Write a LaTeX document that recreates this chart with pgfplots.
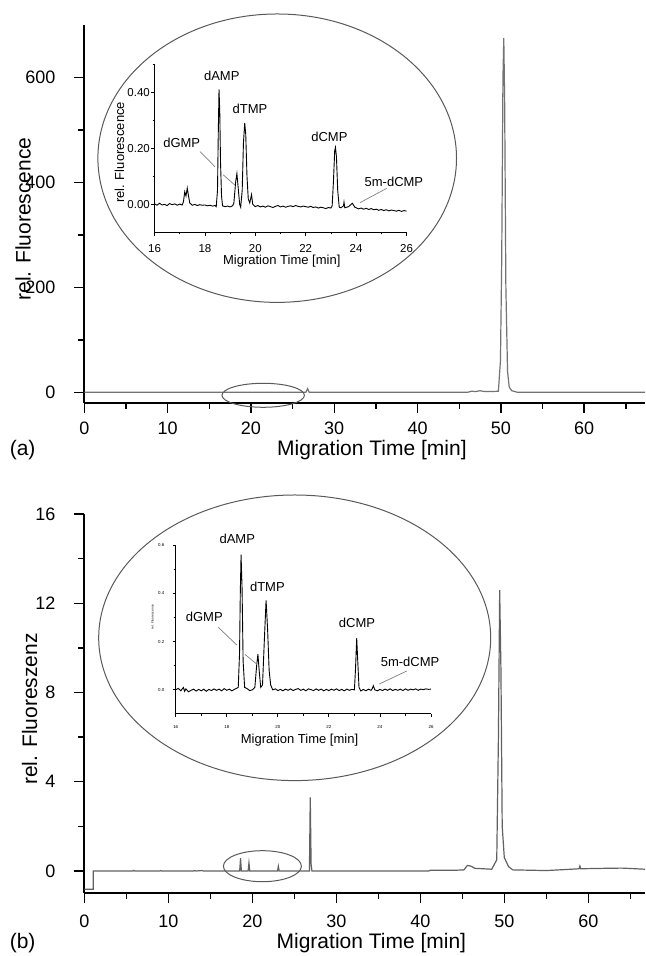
\documentclass[border=0pt]{standalone}
\usepackage{fontspec}
\setmainfont{Liberation Sans}
\usepackage{pgfplots}
\pgfplotsset{compat=1.18}
\definecolor{tracegray}{gray}{0.45}
\definecolor{ellgray}{gray}{0.35}
\tikzset{peak/.style={font=\fontsize{6.5}{7.5}\selectfont}}

\begin{document}
\begin{tikzpicture}
\path[use as bounding box] (0,0) rectangle (322.5pt,478pt);

\pgfplotsset{
  mainax/.style={
    scale only axis, anchor=south west, axis lines*=left,
    width=280.35pt, xmin=0,
    tick align=outside, major tick length=5pt, minor tick length=3pt,
    axis line style={line width=1pt},
    tick style={black, line width=0.7pt},
    xtick={0,10,...,60}, minor xtick={5,15,...,65},
    tick label style={font=\fontsize{9}{10}\selectfont},
    /pgf/number format/assume math mode=true,
    yticklabel style={anchor=east, inner sep=0pt, xshift=-9.25pt},
    xticklabel style={anchor=north, inner sep=0pt},
    label style={font=\fontsize{10.5}{12}\selectfont},
    clip mode=individual,
  },
  insetax/.style={
    scale only axis, anchor=south west, axis lines*=left,
    xmin=16, xmax=26, ymin=-0.1,
    xtick={16,18,...,26}, minor xtick={17,19,...,25},
    minor ytick={0.1,0.3,0.5},
    tick align=outside,
    axis line style={line width=0.5pt},
    tick style={black, line width=0.4pt},
    /pgf/number format/assume math mode=true,
    clip mode=individual,
  },
}

% ---------------- panel (a) ----------------
\begin{axis}[mainax, at={(42.15pt,276.6pt)}, height=188.9pt,
  xmax=67.3, ymin=-20, ymax=700,
  ytick={0,200,400,600}, minor ytick={100,300,500},
  xticklabel style={yshift=-4.5pt},
  xlabel={Migration Time [min]},
  xlabel style={at={(axis description cs:0.513,-0.125)}, anchor=center},
  ylabel={rel. Fluorescence},
  ylabel style={at={(axis description cs:-0.109,0.4865)}, anchor=center},
]
\addplot[tracegray, line width=0.6pt] coordinates {
  (0,0) (26.6,0) (26.8,7) (27.0,0) (46,0) (46.5,2) (47,1.5) (47.5,3)
  (48,1.5) (49,1.5) (49.7,2) (49.95,60) (50.1,250) (50.25,600) (50.35,675)
  (50.45,560) (50.6,200) (50.8,40) (51.0,10) (51.3,3) (52,0) (67.3,0)
};
\node[font=\fontsize{10.5}{12}\selectfont] at (axis description cs:-0.110,-0.125) {(a)};
\end{axis}

\draw[ellgray, line width=0.5pt] (138.6pt,398.9pt) ellipse [x radius=89.65pt, y radius=72.1pt];
\draw[ellgray, line width=0.5pt] (131.6pt,280.35pt) ellipse [x radius=20.6pt, y radius=6pt];

\begin{axis}[insetax, at={(77.25pt,361.75pt)}, width=126pt, height=84.25pt,
  ymax=0.5, ytick={0,0.2,0.4}, yticklabels={0.00,0.20,0.40},
  major tick length=1.65pt, minor tick length=1pt,
  tick label style={font=\fontsize{5.75}{6.5}\selectfont},
  yticklabel style={anchor=east, inner sep=0pt, xshift=-0.5pt},
  xticklabel style={anchor=north, inner sep=0pt, yshift=-4pt},
  xlabel={Migration Time [min]},
  xlabel style={at={(axis description cs:0.505,-0.169)}, anchor=center, font=\fontsize{6.5}{7.5}\selectfont},
  ylabel={rel. Fluorescence},
  ylabel style={at={(axis description cs:-0.139,0.475)}, anchor=center, font=\fontsize{6.5}{7.5}\selectfont},
]
\addplot[black, line width=0.45pt] coordinates {
  (16.0,0.002) (16.1,-0.003) (16.2,0.004) (16.3,-0.002) (16.4,0.000)
  (16.5,-0.004) (16.6,0.003) (16.7,-0.001) (16.8,0.002) (16.9,-0.003)
  (17.0,0.001) (17.1,-0.002) (17.15,0.010) (17.2,0.045) (17.25,0.030)
  (17.3,0.058) (17.35,0.030) (17.4,0.005) (17.5,-0.003) (17.6,0.000)
  (17.7,-0.004) (17.8,-0.001) (17.9,-0.003) (18.0,-0.002) (18.1,-0.005)
  (18.2,-0.003) (18.3,-0.006) (18.4,-0.004) (18.45,-0.008) (18.5,0.05)
  (18.53,0.25) (18.56,0.41) (18.59,0.33) (18.62,0.15) (18.66,0.03)
  (18.7,-0.005) (18.8,-0.008) (18.9,-0.006) (19.0,-0.009) (19.1,-0.005)
  (19.15,0.005) (19.22,0.08) (19.27,0.11) (19.32,0.06) (19.38,0.00)
  (19.42,-0.01) (19.48,0.05) (19.53,0.22) (19.58,0.29) (19.62,0.25)
  (19.67,0.10) (19.72,0.02) (19.78,0.005) (19.85,0.035) (19.9,0.000)
  (20.0,-0.008) (20.1,-0.004) (20.2,-0.009) (20.3,-0.006) (20.4,-0.010)
  (20.5,-0.005) (20.6,-0.008) (20.7,-0.011) (20.8,-0.007) (20.9,-0.004)
  (21.0,-0.009) (21.1,-0.006) (21.2,-0.010) (21.3,-0.007) (21.4,-0.005)
  (21.5,-0.008) (21.6,-0.004) (21.7,-0.007) (21.8,-0.009) (21.9,-0.006)
  (22.0,-0.008) (22.1,-0.010) (22.2,-0.007) (22.3,-0.011) (22.4,-0.009)
  (22.5,-0.013) (22.6,-0.010) (22.7,-0.012) (22.8,-0.015) (22.9,-0.011)
  (23.0,-0.013) (23.05,-0.005) (23.1,0.08) (23.15,0.19) (23.18,0.203)
  (23.22,0.17) (23.27,0.05) (23.33,-0.01) (23.4,-0.012) (23.5,-0.005)
  (23.52,0.008) (23.55,-0.012) (23.7,-0.008) (23.85,0.004) (23.95,-0.010)
  (24.0,-0.012) (24.1,-0.016) (24.2,-0.013) (24.3,-0.017) (24.4,-0.014)
  (24.5,-0.018) (24.6,-0.015) (24.7,-0.019) (24.8,-0.017) (24.9,-0.021)
  (25.0,-0.018) (25.1,-0.022) (25.2,-0.019) (25.3,-0.023) (25.4,-0.020)
  (25.5,-0.022) (25.6,-0.024) (25.7,-0.021) (25.8,-0.025) (25.9,-0.022)
  (26.0,-0.024)
};
\node[peak] at (axis cs:18.67,0.457) {dAMP};
\node[peak] at (axis cs:19.79,0.34) {dTMP};
\node[peak] at (axis cs:17.08,0.218) {dGMP};
\node[peak] at (axis cs:22.94,0.239) {dCMP};
\node[peak] at (axis cs:25.5,0.08) {5m-dCMP};
\draw[gray, line width=0.35pt] (axis cs:17.81,0.188) -- (axis cs:18.4,0.134);
\draw[gray, line width=0.35pt] (axis cs:18.73,0.105) -- (axis cs:19.19,0.069);
\draw[gray, line width=0.35pt] (axis cs:25.21,0.057) -- (axis cs:24.15,0.006);
\end{axis}

% ---------------- panel (b) ----------------
\begin{axis}[mainax, at={(42.15pt,31.35pt)}, height=189.55pt,
  xmax=66.75, ymin=-1, ymax=16,
  ytick={0,4,8,12,16}, minor ytick={2,6,10,14},
  xticklabel style={yshift=-5.85pt},
  xlabel={Migration Time [min]},
  xlabel style={at={(axis description cs:0.512,-0.131)}, anchor=center},
  ylabel={rel. Fluoreszenz},
  ylabel style={at={(axis description cs:-0.0977,0.486)}, anchor=center},
]
\addplot[tracegray!85!black, line width=0.6pt] coordinates {
  (0,-0.82) (1.07,-0.82) (1.07,0) (5.8,0) (5.9,0.03) (6.0,0) (9,0) (9.1,0.02)
  (9.2,0) (13,0) (13.1,0.02) (13.3,0) (14,0.02) (14.2,0) (18.5,0)
  (18.6,0.57) (18.7,0) (19.5,0) (19.6,0.36) (19.7,0) (23.0,0) (23.1,0.21)
  (23.2,0) (26.8,0) (26.9,3.3) (27.0,0.3) (27.1,0) (41,0) (41.2,0.03)
  (44,0.03) (45.2,0.05) (45.6,0.25) (46,0.22) (46.5,0.12) (48.5,0.08)
  (49.1,0.5) (49.3,6) (49.45,12.6) (49.6,9) (49.75,2) (50,0.6) (50.5,0.2)
  (51,0.05) (55,0.02) (58,0.08) (58.9,0.1) (59,0.22) (59.1,0.1) (62,0.12)
  (64,0.13) (66.75,0.08)
};
\node[font=\fontsize{10.5}{12}\selectfont] at (axis description cs:-0.110,-0.131) {(b)};
\end{axis}

\draw[ellgray, line width=0.5pt] (147.35pt,159.1pt) ellipse [x radius=98pt, y radius=71.4pt];
\draw[ellgray, line width=0.5pt] (131.2pt,44.9pt) ellipse [x radius=19.5pt, y radius=7.75pt];

\begin{axis}[insetax, at={(87.85pt,121pt)}, width=127.65pt, height=84.5pt,
  ymax=0.6, ytick={0,0.2,0.4,0.6}, yticklabels={0.0,0.2,0.4,0.6},
  major tick length=1.5pt, minor tick length=1pt,
  tick label style={font=\fontsize{2.2}{2.5}\selectfont},
  yticklabel style={anchor=east, inner sep=0pt, xshift=-4pt},
  xticklabel style={anchor=north, inner sep=0pt, yshift=-4pt},
  xlabel={Migration Time [min]},
  xlabel style={at={(axis description cs:0.485,-0.154)}, anchor=center, font=\fontsize{6.5}{7.5}\selectfont},
  ylabel={rel. Fluorescence},
  ylabel style={at={(axis description cs:-0.091,0.574)}, anchor=center, font=\fontsize{1.6}{2}\selectfont},
]
\addplot[black, line width=0.45pt] coordinates {
  (16.0,0.000) (16.1,0.006) (16.2,-0.004) (16.3,0.010) (16.35,-0.006)
  (16.4,0.004) (16.5,-0.008) (16.6,-0.002) (16.7,0.003) (16.8,-0.005)
  (16.9,0.002) (17.0,-0.004) (17.1,0.003) (17.2,-0.006) (17.3,0.002)
  (17.4,-0.003) (17.5,0.004) (17.6,-0.002) (17.7,0.003) (17.8,-0.004)
  (17.9,0.005) (18.0,-0.002) (18.1,0.003) (18.2,-0.004) (18.3,0.002)
  (18.45,0.010) (18.5,0.15) (18.53,0.40) (18.56,0.56) (18.6,0.42)
  (18.64,0.12) (18.7,0.010) (18.8,0.005) (18.9,-0.003) (19.0,0.000)
  (19.1,0.010) (19.17,0.10) (19.22,0.148) (19.27,0.08) (19.33,0.010)
  (19.4,0.020) (19.47,0.20) (19.54,0.371) (19.6,0.25) (19.66,0.08)
  (19.72,0.020) (19.8,0.000) (19.9,0.004) (20.0,-0.003) (20.1,0.002)
  (20.2,-0.004) (20.3,0.003) (20.4,-0.002) (20.5,0.004) (20.6,-0.003)
  (20.7,0.002) (20.8,0.005) (20.9,-0.002) (21.0,0.003) (21.1,-0.004)
  (21.2,0.004) (21.3,0.001) (21.4,-0.003) (21.5,0.004) (21.6,-0.002)
  (21.7,0.003) (21.8,-0.004) (21.9,0.002) (22.0,-0.003) (22.1,0.003)
  (22.2,-0.002) (22.3,0.004) (22.4,-0.003) (22.5,0.002) (22.6,-0.004)
  (22.7,0.003) (22.8,-0.002) (22.9,0.002) (23.0,0.000) (23.04,0.08)
  (23.09,0.214) (23.13,0.12) (23.18,0.010) (23.25,-0.005) (23.35,0.002)
  (23.45,-0.004) (23.55,0.003) (23.65,-0.002) (23.7,0.005) (23.74,0.017)
  (23.8,0.000) (23.9,-0.004) (24.0,0.002) (24.1,-0.003) (24.2,0.003)
  (24.3,-0.002) (24.4,0.004) (24.5,-0.003) (24.6,0.002) (24.7,-0.002)
  (24.8,0.003) (24.9,-0.003) (25.0,0.004) (25.1,-0.002) (25.2,0.003)
  (25.3,0.000) (25.4,0.004) (25.5,-0.002) (25.6,0.003) (25.7,0.001)
  (25.8,0.004) (25.9,0.002) (26.0,0.003)
};
\node[peak] at (axis cs:18.41,0.624) {dAMP};
\node[peak] at (axis cs:19.59,0.425) {dTMP};
\node[peak] at (axis cs:17.12,0.303) {dGMP};
\node[peak] at (axis cs:23.10,0.276) {dCMP};
\node[peak] at (axis cs:25.18,0.117) {5m-dCMP};
\draw[gray, line width=0.35pt] (axis cs:17.67,0.259) -- (axis cs:18.39,0.186);
\draw[gray, line width=0.35pt] (axis cs:18.71,0.147) -- (axis cs:19.17,0.107);
\draw[gray, line width=0.35pt] (axis cs:25.05,0.078) -- (axis cs:23.97,0.024);
\end{axis}
\end{tikzpicture}
\end{document}
